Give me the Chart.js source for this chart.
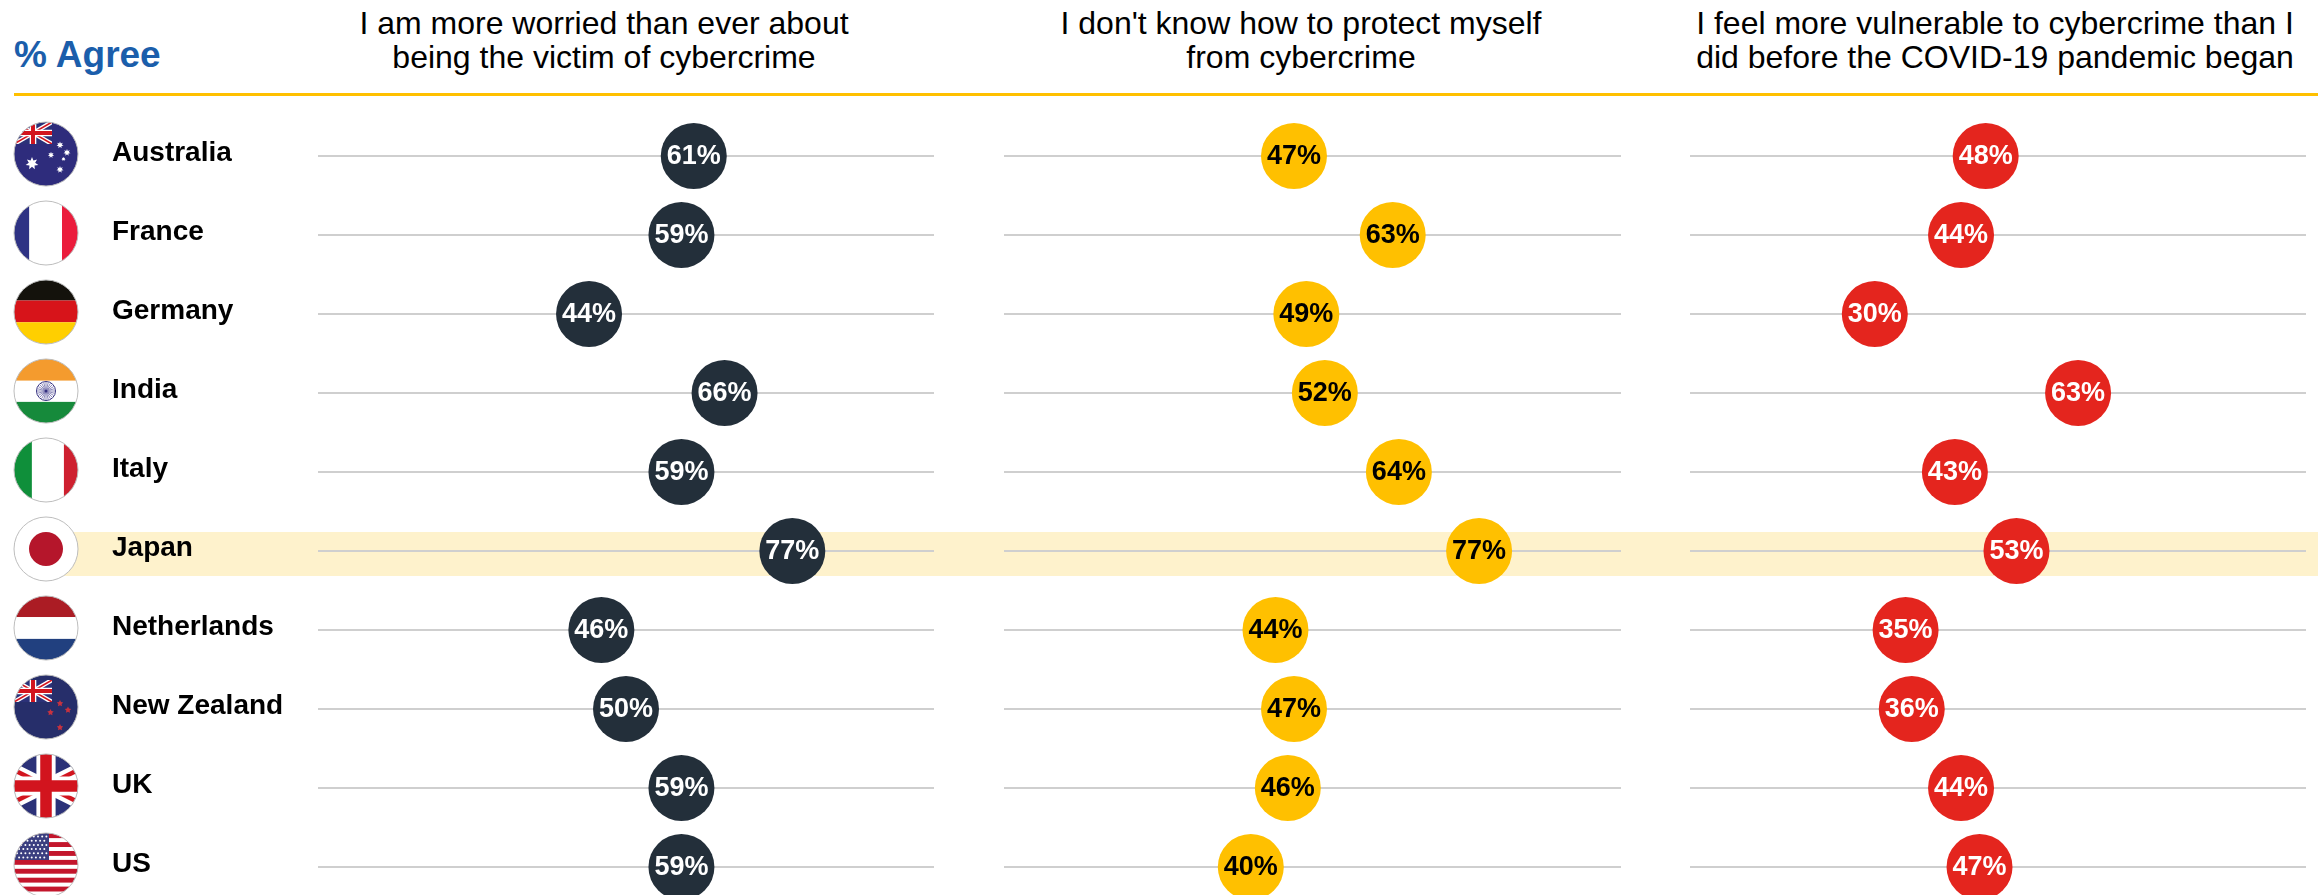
<!DOCTYPE html>
<html>
<head>
<meta charset="utf-8">
<title>% Agree</title>
<script src="https://cdn.jsdelivr.net/npm/chart.js@4"></script>
<style>
  html, body { margin: 0; padding: 0; background: #fff; }
  #page { position: relative; width: 2318px; height: 895px; overflow: hidden; font-family: "Liberation Sans", Arial, sans-serif; color: #000; }
  #page canvas { position: absolute; top: 0; }
  #agree { position: absolute; left: 14px; top: 33px; font-size: 37px; line-height: 44px; font-weight: bold; color: #1b5eab; }
  .head { position: absolute; top: 6px; font-size: 32px; line-height: 34px; text-align: center; white-space: nowrap; transform: translateX(-50%); }
  #rule { position: absolute; left: 14px; right: 0; top: 93px; height: 3px; background: #ffc000; }
</style>
</head>
<body>
<div id="page">
  <div id="agree">% Agree</div>
  <div class="head" style="left:604px">I am more worried than ever about<br>being the victim of cybercrime</div>
  <div class="head" style="left:1301px">I don't know how to protect myself<br>from cybercrime</div>
  <div class="head" style="left:1995px">I feel more vulnerable to cybercrime than I<br>did before the COVID-19 pandemic began</div>
  <div id="rule"></div>
  <canvas id="worried" width="960" height="895" style="left:0"></canvas>
  <canvas id="unprotected" width="695" height="895" style="left:960px"></canvas>
  <canvas id="vulnerable" width="663" height="895" style="left:1655px"></canvas>
</div>

<script>
const countries = ["Australia", "France", "Germany", "India", "Italy", "Japan", "Netherlands", "New Zealand", "UK", "US"];
const worried = [61, 59, 44, 66, 59, 77, 46, 50, 59, 59];
const unprotected = [47, 63, 49, 52, 64, 77, 44, 47, 46, 40];
const vulnerable = [48, 44, 30, 63, 43, 53, 35, 36, 44, 47];
const highlighted = "Japan";

const FONT = '"Liberation Sans", Arial, sans-serif';
const BAND = "#fef2cc";
const RULE = "#cfcfcf";

// --- flags -------------------------------------------------------------
function hStripes(ctx, x, r, colors, cuts) {
  // cuts are fractions of the diameter, measured from the top of the disc
  colors.forEach((c, i) => {
    ctx.fillStyle = c;
    ctx.fillRect(x.cx - r, x.cy - r + cuts[i] * 2 * r, 2 * r, (cuts[i + 1] - cuts[i]) * 2 * r);
  });
}

function vStripes(ctx, x, r, colors, cuts) {
  colors.forEach((c, i) => {
    ctx.fillStyle = c;
    ctx.fillRect(x.cx - r + cuts[i] * 2 * r, x.cy - r, (cuts[i + 1] - cuts[i]) * 2 * r, 2 * r);
  });
}

function unionJack(ctx, x, y, w, h) {
  const line = (x0, y0, x1, y1, lw, color) => {
    ctx.strokeStyle = color;
    ctx.lineWidth = lw;
    ctx.beginPath();
    ctx.moveTo(x0, y0);
    ctx.lineTo(x1, y1);
    ctx.stroke();
  };
  ctx.save();
  ctx.beginPath();
  ctx.rect(x, y, w, h);
  ctx.clip();
  ctx.fillStyle = "#2b3178";
  ctx.fillRect(x, y, w, h);
  line(x, y, x + w, y + h, h * 0.2, "#fff");
  line(x + w, y, x, y + h, h * 0.2, "#fff");
  line(x, y, x + w, y + h, h * 0.07, "#d2141e");
  line(x + w, y, x, y + h, h * 0.07, "#d2141e");
  line(x + w / 2, y, x + w / 2, y + h, h * 0.3, "#fff");
  line(x, y + h / 2, x + w, y + h / 2, h * 0.3, "#fff");
  line(x + w / 2, y, x + w / 2, y + h, h * 0.18, "#d2141e");
  line(x, y + h / 2, x + w, y + h / 2, h * 0.18, "#d2141e");
  ctx.restore();
}

function star(ctx, x, y, r, points, color) {
  ctx.fillStyle = color;
  ctx.beginPath();
  for (let i = 0; i < points * 2; i++) {
    const a = -Math.PI / 2 + i * Math.PI / points;
    const d = i % 2 ? r * 0.5 : r;
    ctx.lineTo(x + Math.cos(a) * d, y + Math.sin(a) * d);
  }
  ctx.closePath();
  ctx.fill();
}

const flags = {
  Australia(ctx, p, r) {
    ctx.fillStyle = "#2e2c7c";
    ctx.fillRect(p.cx - r, p.cy - r, 2 * r, 2 * r);
    unionJack(ctx, p.cx - r, p.cy - r, 38, 22);
    star(ctx, p.cx - 14, p.cy + 9.5, 6.5, 7, "#fff");
    [[14, -9, 3.6], [21, -1.5, 3.6], [5, 1, 3.2], [17.5, 5, 2.2], [14, 15.5, 3.6]]
      .forEach(s => star(ctx, p.cx + s[0], p.cy + s[1], s[2], 7, "#fff"));
  },
  France(ctx, p, r) {
    vStripes(ctx, p, r, ["#2e3284", "#fff", "#eb1c3c"], [0, 0.24, 0.75, 1]);
  },
  Germany(ctx, p, r) {
    hStripes(ctx, p, r, ["#14120c", "#d7141a", "#ffcf00"], [0, 0.32, 0.66, 1]);
  },
  India(ctx, p, r) {
    hStripes(ctx, p, r, ["#f49b2e", "#fff", "#168a3b"], [0, 0.34, 0.67, 1]);
    ctx.strokeStyle = "#34307f";
    ctx.lineWidth = 1;
    ctx.beginPath();
    ctx.arc(p.cx, p.cy, 9.5, 0, Math.PI * 2);
    ctx.stroke();
    ctx.strokeStyle = "#8f8cbc";
    for (let i = 0; i < 24; i++) {
      const a = i * Math.PI / 12;
      ctx.beginPath();
      ctx.moveTo(p.cx, p.cy);
      ctx.lineTo(p.cx + Math.cos(a) * 9, p.cy + Math.sin(a) * 9);
      ctx.stroke();
    }
    ctx.fillStyle = "#34307f";
    ctx.beginPath();
    ctx.arc(p.cx, p.cy, 1.5, 0, Math.PI * 2);
    ctx.fill();
  },
  Italy(ctx, p, r) {
    vStripes(ctx, p, r, ["#0f8f3a", "#fff", "#ce202f"], [0, 0.28, 0.78, 1]);
  },
  Japan(ctx, p, r) {
    ctx.fillStyle = "#fff";
    ctx.fillRect(p.cx - r, p.cy - r, 2 * r, 2 * r);
    ctx.fillStyle = "#b5162b";
    ctx.beginPath();
    ctx.arc(p.cx, p.cy, 17, 0, Math.PI * 2);
    ctx.fill();
  },
  Netherlands(ctx, p, r) {
    hStripes(ctx, p, r, ["#ab1c24", "#fff", "#21407f"], [0, 0.33, 0.67, 1]);
  },
  "New Zealand"(ctx, p, r) {
    ctx.fillStyle = "#262e6a";
    ctx.fillRect(p.cx - r, p.cy - r, 2 * r, 2 * r);
    unionJack(ctx, p.cx - r, p.cy - r + 5, 38, 22);
    [[14, -3.5], [22, 3], [4.5, 5.5], [14, 20.5]]
      .forEach(s => star(ctx, p.cx + s[0], p.cy + s[1], 3.4, 5, "#c8323f"));
  },
  UK(ctx, p, r) {
    unionJack(ctx, p.cx - 2 * r, p.cy - r, 4 * r, 2 * r);
  },
  US(ctx, p, r) {
    ctx.fillStyle = "#fff";
    ctx.fillRect(p.cx - r, p.cy - r, 2 * r, 2 * r);
    ctx.fillStyle = "#c3162c";
    for (let i = 0; i < 7; i++) {
      ctx.fillRect(p.cx - r, p.cy - r + i * 8.9 + 0.2, 2 * r, 4.9);
    }
    ctx.fillStyle = "#3b3f80";
    ctx.fillRect(p.cx - r, p.cy - r, 35, 27);
    for (let row = 0; row < 6; row++) {
      for (let col = 0; col < 8; col++) {
        if (row % 2 && col === 7) continue;
        ctx.fillStyle = "#fff";
        ctx.beginPath();
        ctx.arc(p.cx - r + 3 + col * 4.2 + (row % 2) * 2.1, p.cy - r + 3.5 + row * 4.2, 1, 0, Math.PI * 2);
        ctx.fill();
      }
    }
  }
};

function drawFlag(ctx, name, cx, cy, r) {
  ctx.save();
  ctx.beginPath();
  ctx.arc(cx, cy, r, 0, Math.PI * 2);
  ctx.clip();
  flags[name](ctx, { cx, cy }, r);
  ctx.restore();
  ctx.strokeStyle = "#bdbdbd";
  ctx.lineWidth = 1;
  ctx.beginPath();
  ctx.arc(cx, cy, r, 0, Math.PI * 2);
  ctx.stroke();
}

// --- plugins -----------------------------------------------------------
// Highlight strip across the whole canvas, under the grid lines
const bandPlugin = {
  id: "band",
  beforeDraw(chart, args, opts) {
    const y = chart.scales.y.getPixelForValue(countries.indexOf(highlighted));
    chart.ctx.fillStyle = BAND;
    chart.ctx.fillRect(opts.from || 0, y - 19, chart.width, 44);
  }
};

// Percent text in the middle of each dot
const valueLabels = {
  id: "valueLabels",
  afterDatasetsDraw(chart, args, opts) {
    const ctx = chart.ctx;
    const meta = chart.getDatasetMeta(0);
    ctx.save();
    ctx.font = "bold 27px " + FONT;
    ctx.fillStyle = opts.color;
    ctx.textAlign = "center";
    ctx.textBaseline = "middle";
    meta.data.forEach((pt, i) => {
      ctx.fillText(chart.data.datasets[0].data[i].x + "%", pt.x, pt.y + 1);
    });
    ctx.restore();
  }
};

const flagColumn = {
  id: "flagColumn",
  afterDraw(chart) {
    const y = chart.scales.y;
    countries.forEach((c, i) => drawFlag(chart.ctx, c, 46, y.getPixelForValue(i) - 2, 32));
  }
};

function panel(id, values, color, textColor, padLeft, padRight, first) {
  new Chart(document.getElementById(id), {
    type: "scatter",
    data: {
      datasets: [{
        data: values.map((v, i) => ({ x: v, y: countries[i] })),
        backgroundColor: color,
        borderWidth: 0,
        pointRadius: 33,
        pointHoverRadius: 33,
        clip: false
      }]
    },
    plugins: first ? [bandPlugin, valueLabels, flagColumn] : [bandPlugin, valueLabels],
    options: {
      responsive: false,
      animation: false,
      events: [],
      layout: { autoPadding: false, padding: { left: padLeft, right: padRight, top: 156, bottom: 28 } },
      plugins: {
        legend: { display: false },
        tooltip: { enabled: false },
        band: { from: first ? 46 : 0 },
        valueLabels: { color: textColor }
      },
      scales: {
        x: { type: "linear", min: 0, max: 100, display: false },
        y: {
          type: "category",
          labels: countries,
          offset: false,
          border: { display: false },
          grid: { color: RULE, lineWidth: 2, drawTicks: false },
          afterFit: s => { s.width = first ? 206 : 0; },
          ticks: {
            display: first,
            crossAlign: "far",
            labelOffset: -3,
            padding: 0,
            color: "#000",
            font: { family: FONT, size: 28, weight: "bold" }
          }
        }
      }
    }
  });
}

panel("worried", worried, "#232f3a", "#fff", 112, 26, true);
panel("unprotected", unprotected, "#ffc000", "#000", 44, 34, false);
panel("vulnerable", vulnerable, "#e4251e", "#fff", 35, 12, false);
</script>
</body>
</html>
